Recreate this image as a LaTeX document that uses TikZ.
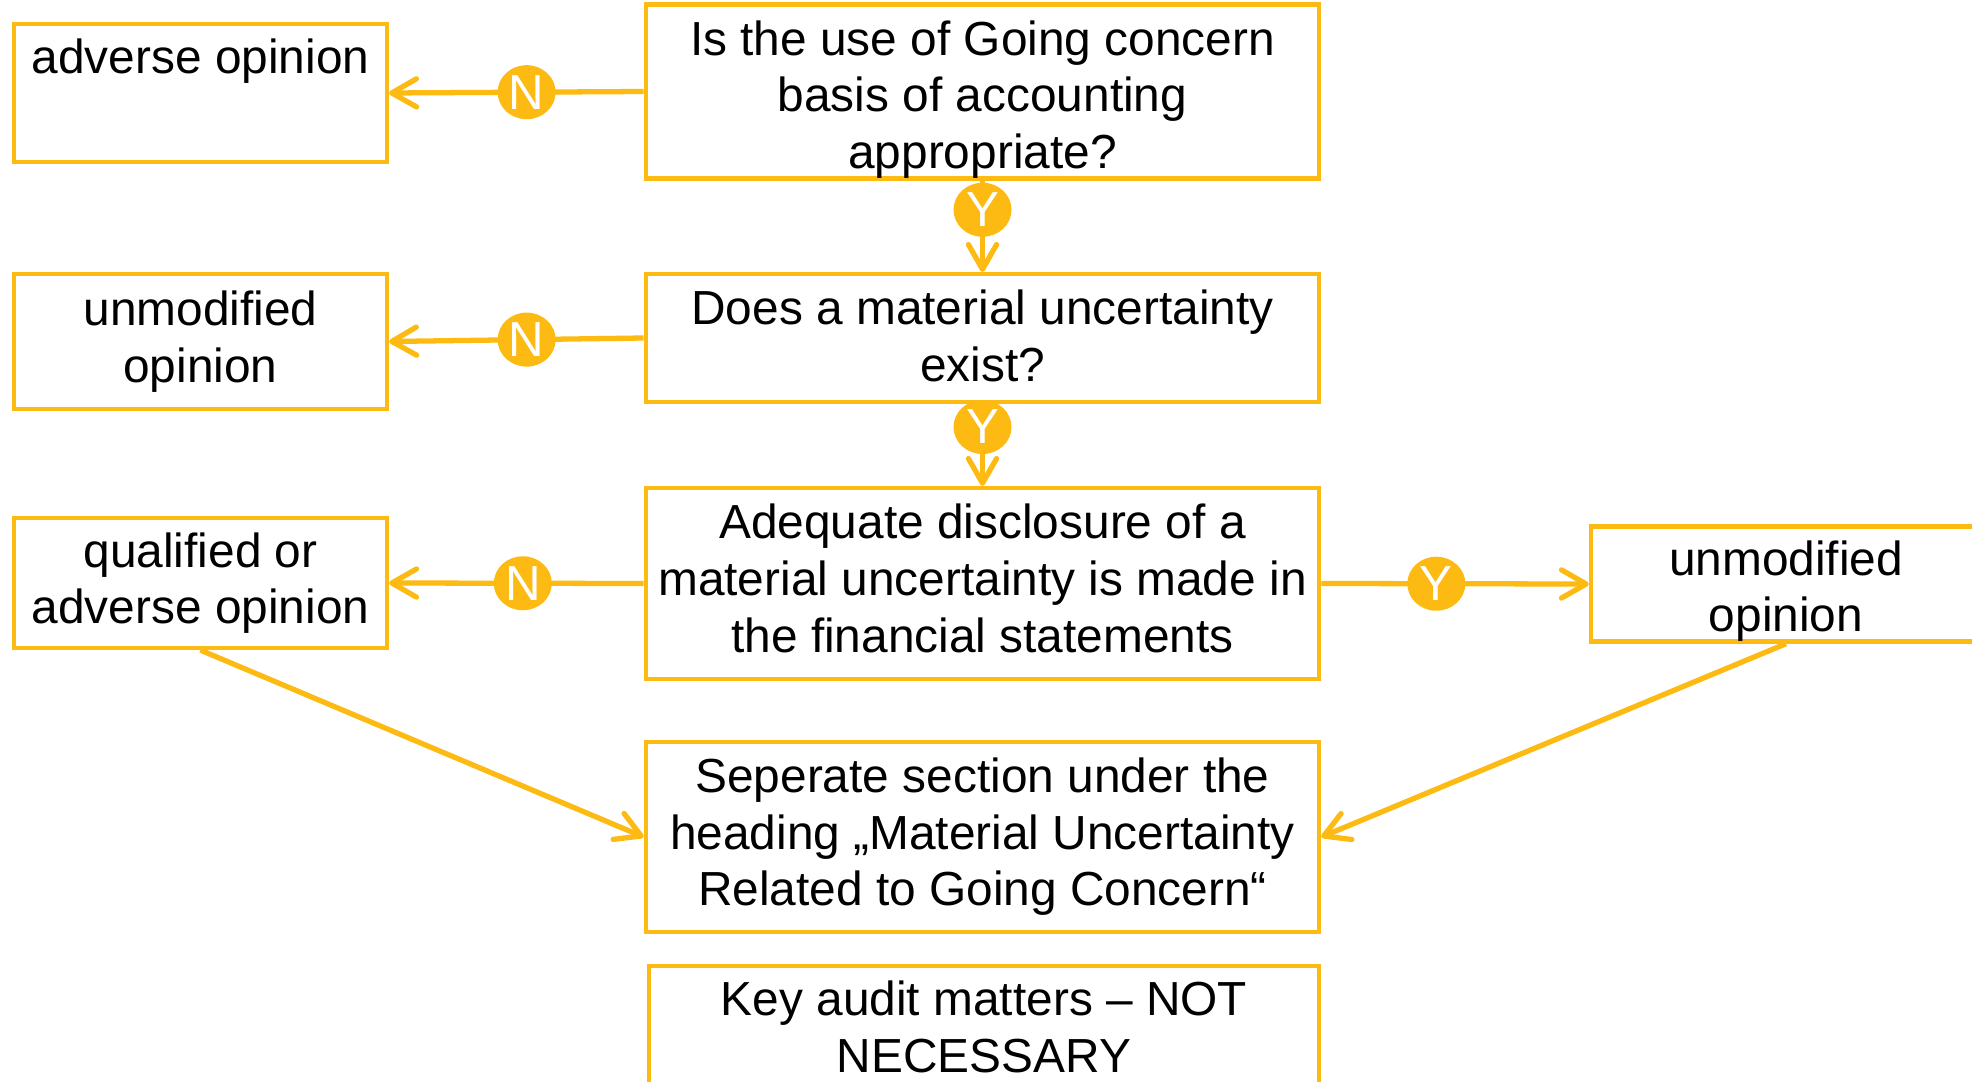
\documentclass[tikz,border=0pt]{standalone}
\usepackage{fontspec}
\setmainfont{Liberation Sans}
\usepackage{xcolor}
\usepackage{tikz}
\usetikzlibrary{arrows.meta,shapes.geometric}

\definecolor{gold}{RGB}{252,186,18}
% extra room above the first line or below the last one
\newcommand{\padtop}[2]{\raisebox{0pt}[\dimexpr\height+#1\relax][\depth]{#2}}
\newcommand{\padbot}[2]{\raisebox{0pt}[\height][\dimexpr\depth+#1\relax]{#2}}
\tikzset{
  box/.style={draw=gold, line width=1.2pt, align=center, inner sep=0pt,
    font=\fontsize{13.6}{16.1}\selectfont},
  yn/.style={ellipse, fill=gold, text=white, minimum width=0.58cm,
    minimum height=0.54cm, inner sep=0pt, font=\fontsize{14}{16}\selectfont},
  arr/.style={draw=gold, line width=1.5pt, -{Straight Barb[length=7pt,width=8pt,round]}}
}

\begin{document}
\begin{tikzpicture}[x=0.01cm,y=-0.01cm]
\clip (0,0) rectangle (1972,1082);

\node[box, minimum width=6.73cm, minimum height=1.71cm] (q1) at (982.5,91.5)
  {\padtop{0.16cm}{Is the use of Going concern}\\basis of accounting\\appropriate?};
\node[box, minimum width=6.73cm, minimum height=1.28cm] (q2) at (982.5,338)
  {Does a material uncertainty\\\padbot{0.04cm}{exist?}};
\node[box, minimum width=6.73cm, minimum height=1.91cm] (q3) at (982.5,583.5)
  {Adequate disclosure of a\\material uncertainty is made in\\\padbot{0.1cm}{the financial statements}};
\node[box, minimum width=6.73cm, minimum height=1.90cm] (sep) at (982.5,837)
  {Seperate section under the\\heading „Material Uncertainty\\Related to Going Concern“};
\node[box, minimum width=6.70cm, minimum height=1.30cm] (kam) at (984,1031)
  {Key audit matters – NOT\\\padbot{0.08cm}{NECESSARY}};

\node[box, minimum width=3.73cm, minimum height=1.38cm] (adv) at (200.5,93)
  {adverse opinion\\ \strut};
\node[box, minimum width=3.73cm, minimum height=1.35cm] (unmodA) at (200.5,341.5)
  {unmodified\\opinion};
\node[box, minimum width=3.73cm, minimum height=1.30cm] (qual) at (200.5,583)
  {qualified or\\adverse opinion};
\node[box, minimum width=3.90cm, minimum height=1.14cm] (unmodB) at (1786,584)
  {\padtop{0.14cm}{unmodified}\\opinion};

% answers
\draw[arr] (q1.west) -- node[yn, pos=.46] (n1) {N} (adv.east);
\draw[arr] (q2.west) -- node[yn, pos=.46] (n2) {N} (unmodA.east);
\draw[arr] (q3.west) -- node[yn, pos=.475] (n3) {N} (qual.east);
\draw[arr] (q3.east) -- node[yn, pos=.43] (y3) {Y} (unmodB.west);
\draw[arr] (q1.south) -- node[yn, pos=.32] (y1) {Y} (q2.north);
\draw[arr] (q2.south) -- node[yn, pos=.28] (y2) {Y} (q3.north);

\draw[arr] (qual.south) -- (sep.west);
\draw[arr] (unmodB.south) -- (sep.east);

\end{tikzpicture}
\end{document}
